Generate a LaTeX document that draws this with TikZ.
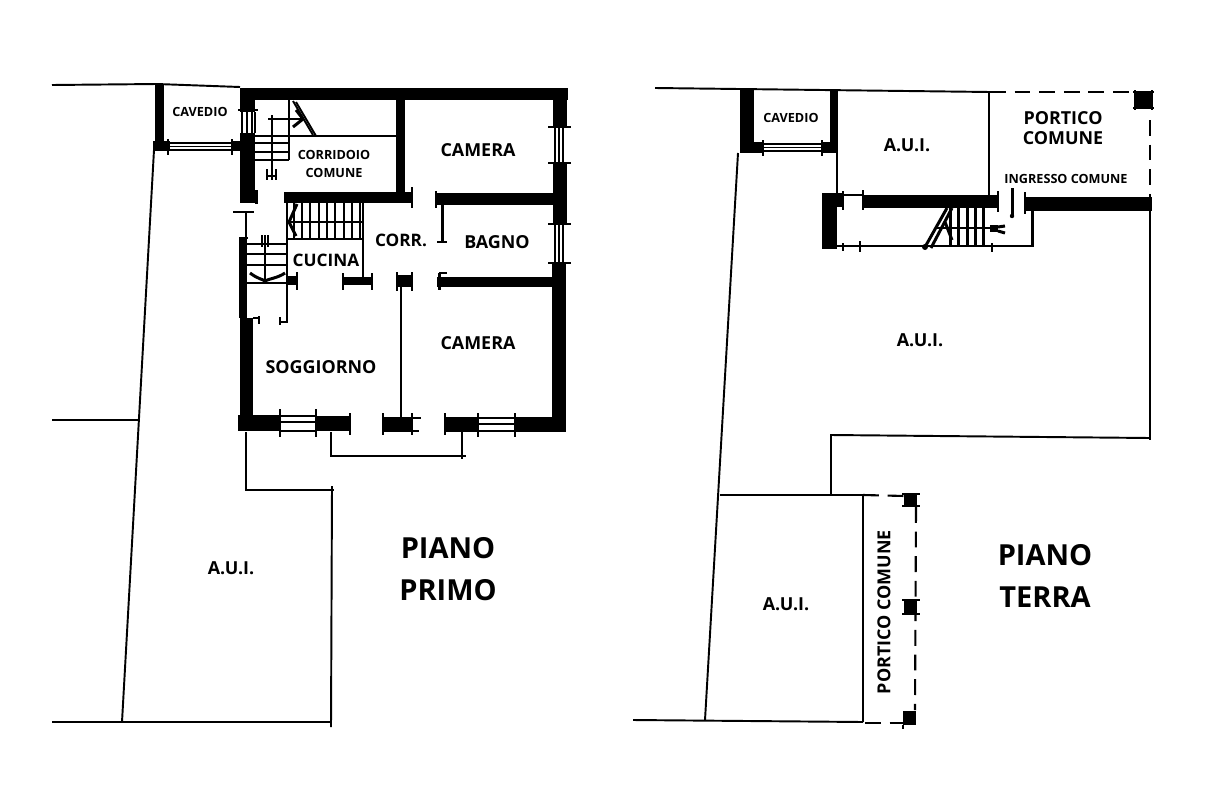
\documentclass[tikz,border=0pt]{standalone}
\usepackage{fontspec}
\setmainfont{Open Sans}
\tikzset{
 wall/.style={fill=black,draw=none},
 thn/.style={draw=black,line width=1.1pt},
 med/.style={draw=black,line width=1.7pt},
 hair/.style={draw=black,line width=0.7pt},
 dashline/.style={draw=black,line width=1.2pt,dash pattern=on 9pt off 5pt},
 lab/.style={font=\bfseries\fontsize{7.2}{8.6}\selectfont,text=black,inner sep=0pt,align=center},
 labm/.style={font=\bfseries\fontsize{10.2}{11.8}\selectfont,text=black,inner sep=0pt,align=center},
 labl/.style={font=\bfseries\fontsize{16.5}{24}\selectfont,text=black,inner sep=0pt,align=center},
}
\begin{document}
\begin{tikzpicture}[x=0.02cm,y=-0.02cm]
\useasboundingbox (0,0) rectangle (1213,808);
% ---------- PIANO PRIMO
\draw[thn] (52,85) -- (157,84) -- (240,87);
\draw[thn] (154,150) -- (122,722);
\draw[thn] (52,420) -- (138,420);
\draw[thn] (52,722) -- (331,722);
\draw[thn] (246,432) -- (246,490) -- (334,490);
\draw[thn] (332,486) -- (331,727);
\draw[thn] (331,432) -- (331,456) -- (466,456);
\draw[thn] (462,432) -- (462,459);
% outer walls
\fill[wall] (155,85) rectangle (164,150);
\fill[wall] (153,141) rectangle (170,151);
\fill[wall] (232,141) rectangle (240,151);
\fill[wall] (240,88) rectangle (568,100);
\fill[wall] (240,88) rectangle (255,112);
\fill[wall] (240,133) rectangle (255,203);
\fill[wall] (255,190) rectangle (258,204);
\fill[wall] (239,238) rectangle (247,318);
\fill[wall] (240,318) rectangle (253,431);
\fill[wall] (238,415) rectangle (280,431);
\fill[wall] (316,416) rectangle (350,431);
\fill[wall] (383,417) rectangle (412,431);
\fill[wall] (445,417) rectangle (478,432);
\fill[wall] (515,417) rectangle (566,432);
\fill[wall] (553,88) rectangle (567,127);
\fill[wall] (553,163) rectangle (567,224);
\fill[wall] (552,263) rectangle (566,432);
% cavedio window
\foreach \yy in {143,146.5,150}{\draw[hair] (170,\yy) -- (232,\yy);}
\draw[hair] (168,139) -- (168,155); \draw[hair] (232,139) -- (232,155);
\draw[thn] (238,110) -- (258,110);
\foreach \xx in {242,247,252,255}{\draw[hair] (\xx,112) -- (\xx,133);}
% other windows
\foreach \xx in {280,316}{\draw[thn] (\xx,409) -- (\xx,437);}
\foreach \yy in {416,422,431}{\draw[hair] (280,\yy) -- (316,\yy);}
\foreach \xx in {478,515}{\draw[thn] (\xx,413) -- (\xx,437);}
\foreach \yy in {418,424,431}{\draw[hair] (478,\yy) -- (515,\yy);}
\foreach \xx in {555,559,563}{\draw[hair] (\xx,127) -- (\xx,163); \draw[hair] (\xx,223) -- (\xx,263);}
\foreach \yy in {127,163,224,263}{\draw[thn] (548,\yy) -- (571,\yy);}
\foreach \xx in {350,383,412,445}{\draw[thn] (\xx,413) -- (\xx,435);}
\draw[thn] (383,418) -- (421,418); \draw[thn] (383,431) -- (419,431);
\draw[thn] (233,212) -- (254,212);
\draw[thn] (246,212) -- (246,238);
\draw[thn] (239,238) -- (248,238);
% interior walls
\fill[wall] (396,100) rectangle (405,193);
\fill[wall] (284,192) rectangle (412,203);
\draw[thn] (412,187) -- (412,208);
\fill[wall] (435,193) rectangle (553,205);
\draw[thn] (436,191) -- (436,208);
\draw[med] (442,205) -- (442,242); \draw[thn] (437,242) -- (447,242);
\fill[wall] (437,277) rectangle (553,287);
\draw[med] (439,273) -- (439,290); \draw[thn] (439,273) -- (447,273);
\fill[wall] (343,277) rectangle (372,285);
\draw[thn] (343,273) -- (343,290); \draw[thn] (372,273) -- (372,290);
\fill[wall] (397,275) rectangle (412,287);
\draw[thn] (397,272) -- (397,291); \draw[thn] (412,272) -- (412,291);
\draw[med] (401,287) -- (401,417);
\draw[med] (363,203) -- (363,279);
\draw[med] (287,239) -- (363,239);
\draw[med] (287,203) -- (287,322) -- (280,322);
\draw[med] (280,317) -- (280,325);
\fill[wall] (287,276) rectangle (297,285);
\draw[thn] (297,272) -- (297,290);
\draw[med] (253,318) -- (260,318);
\draw[thn] (259,316) -- (259,324);
% corridor stair
\draw[thn] (255,136) -- (396,136);
\draw[thn] (289,100) -- (289,160);
\foreach \yy in {143,152,160}{\draw[med] (255,\yy) -- (289,\yy);}
\draw[thn] (272,115) -- (272,170);
\draw[med] (268,119) -- (303,119);
\draw[thn] (293,101) -- (313,135);
\draw[thn] (296,102) -- (316,136);
\draw[med] (293,127) -- (303,119); \draw[med] (296,110) -- (303,119);
\foreach \xx in {267,272,276}{\draw[hair] (\xx,169) -- (\xx,180);}
\draw[thn] (267,176) -- (276,176);
% kitchen upper stair
\foreach \xx in {294,302,310,319,327,335,344,352,360}{\draw[med] (\xx,203) -- (\xx,239);}
\draw[med] (287,222) -- (363,222);
\draw[med] (297,204) -- (289,222) -- (296,236);
% kitchen lower stair
\foreach \yy in {244,254,265,283}{\draw[med] (247,\yy) -- (287,\yy);}
\draw[thn] (265,235) -- (265,284);
\draw[thn] (262,235) -- (262,247); \draw[thn] (268,235) -- (268,247);
\draw[med] (250,273) .. controls (258,279) and (262,279) .. (265,281) .. controls (268,279) and (278,278) .. (285,273);
% ---------- PIANO TERRA
\draw[thn] (655,88) -- (990,92);
\draw[thn] (738,153) -- (705,720);
\draw[thn] (633,720) -- (863,722);
\draw[thn] (720,495) -- (863,495);
\draw[thn] (863,495) -- (863,722);
\draw[thn] (831,495) -- (831,435) -- (1150,438);
\draw[thn] (1150,211) -- (1150,440);
\draw[thn] (837,153) -- (837,195);
\draw[thn] (989,92) -- (989,195);
\fill[wall] (740,90) rectangle (754,153);
\fill[wall] (740,142) rectangle (763,153);
\fill[wall] (822,142) rectangle (838,153);
\fill[wall] (830,90) rectangle (838,153);
\foreach \yy in {144,147.5,151}{\draw[hair] (763,\yy) -- (822,\yy);}
\draw[hair] (763,140) -- (763,156); \draw[hair] (822,140) -- (822,156);
\fill[wall] (863,195) rectangle (998,208);
\fill[wall] (822,193) rectangle (837,249);
\fill[wall] (837,193) rectangle (843,207);
\draw[thn] (843,195) -- (863,195);
\draw[thn] (843,191) -- (843,210); \draw[thn] (863,190) -- (863,210);
\draw[med] (837,246) -- (1032,246) -- (1032,209);
\draw[thn] (843,243) -- (843,251); \draw[thn] (860,241) -- (860,252); \draw[thn] (992,243) -- (992,252);
\fill[wall] (1025,197) rectangle (1152,211);
\draw[thn] (1025,192) -- (1025,214);
\draw[thn] (998,191) -- (998,212);
\draw[med] (1012,188) -- (1012,215);
\fill (1012,216) circle (2.2);
% ground stair
\foreach \xx in {950,958,967,975,983}{\draw[med] (\xx,208) -- (\xx,246);}
\draw[med] (925,247) -- (947,208);
\draw[med] (931,248) -- (952,208);
\draw[thn] (935,228) -- (990,228);
\draw[med] (945,222) -- (952,240);
\fill (925,247) circle (3);
\fill[wall] (990,225) rectangle (998,232);
\draw[med] (998,227) -- (1005,226); \draw[med] (998,231) -- (1005,233);
% dashed
\draw[dashline] (990,92) -- (1133,92);
\draw[dashline] (1150,120) -- (1150,197);
\fill[wall] (1135,93) rectangle (1152,107);
\draw[thn] (1133,92) -- (1154,92); \draw[thn] (1133,108) -- (1154,108);
\draw[thn] (1135,90) -- (1135,110); \draw[thn] (1152,90) -- (1152,110);
\draw[dashline] (863,495) -- (905,496);
\draw[dashline] (916,507) -- (915,710);
\draw[dashline] (865,723) -- (903,723);
\fill[wall] (904,495) rectangle (917,506);
\draw[thn] (902,494) -- (920,494); \draw[thn] (902,506) -- (920,506);
\fill[wall] (904,601) rectangle (917,614);
\draw[thn] (902,600) -- (920,600); \draw[thn] (902,614) -- (920,614);
\fill[wall] (903,711) rectangle (916,725);
\draw[thn] (903,725) -- (903,729);
% ---------- labels
\node[lab] (cav1) at (200,112) {CAVEDIO};
\node[lab] (corrid) at (334,164) {CORRIDOIO\\[1.5pt]COMUNE};
\node[labm] (cam1) at (478,150) {CAMERA};
\node[labm] (bagno) at (497,242) {BAGNO};
\node[labm,font=\bfseries\fontsize{9.8}{11}\selectfont] (corr) at (401,240) {CORR.};
\node[labm,font=\bfseries\fontsize{9.8}{11}\selectfont] (cucina) at (326,260) {CUCINA};
\node[labm] (cam2) at (478,343) {CAMERA};
\node[labm] (sogg) at (321,367) {SOGGIORNO};
\node[labm] (aui1) at (231,568) {A.U.I.};
\node[labl] (pp) at (448,569) {PIANO\\PRIMO};
\node[lab] (cav2) at (791,118) {CAVEDIO};
\node[labm] (aui2) at (907,145) {A.U.I.};
\node[labm] (port) at (1063,128) {PORTICO\\COMUNE};
\node[lab] (ingr) at (1066,179) {INGRESSO COMUNE};
\node[labm] (aui3) at (920,340) {A.U.I.};
\node[labm] (aui4) at (786,604) {A.U.I.};
\node[labm,rotate=90] (port2) at (884,612) {PORTICO COMUNE};
\node[labl] (pt) at (1045,576) {PIANO\\TERRA};
\end{tikzpicture}
\end{document}
